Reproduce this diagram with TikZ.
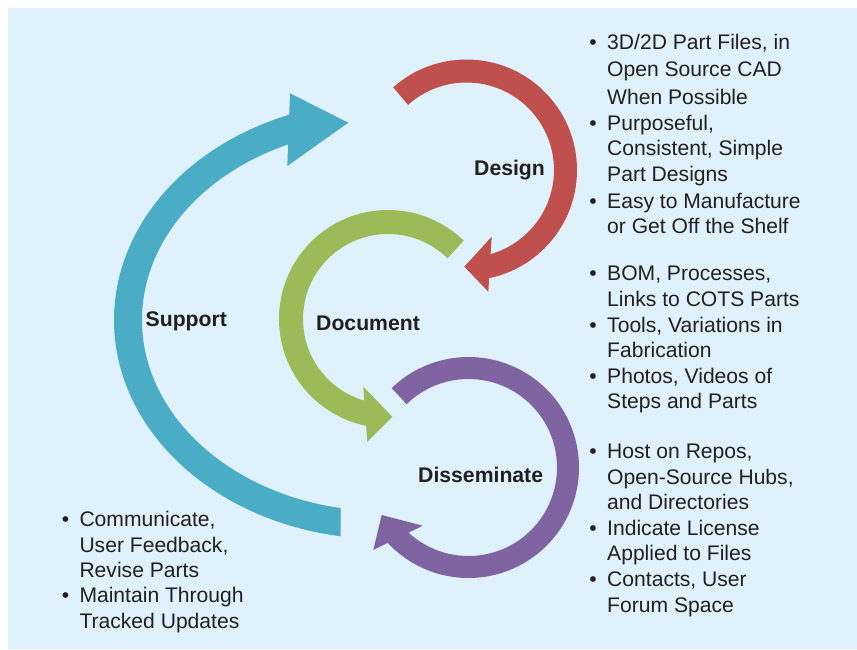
\documentclass[tikz,border=0pt]{standalone}
\usepackage{fontspec}
\setmainfont{Liberation Sans}
\definecolor{bgc}{RGB}{223,242,251}
\definecolor{redc}{HTML}{C0504D}
\definecolor{greenc}{HTML}{9BBB59}
\definecolor{purplec}{HTML}{8064A2}
\definecolor{cyanc}{HTML}{4BACC6}
\definecolor{txt}{HTML}{231F20}
\newcommand{\itemlines}[1]{\begin{tabular}[t]{@{}l@{}}#1\end{tabular}}
\begin{document}
\begin{tikzpicture}[x=1pt,y=-1pt,
  bandline/.style={line width=#1, line cap=butt},
  lbl/.style={font=\fontsize{21.2}{24}\selectfont\bfseries, text=txt, inner sep=0pt, anchor=base west},
  itm/.style={font=\fontsize{21.1}{25.6}\selectfont, text=txt, inner sep=0pt, anchor=base west},
  bul/.style={font=\fontsize{21.1}{25.6}\selectfont, text=txt, inner sep=0pt, anchor=base}]
\useasboundingbox (0,0) rectangle (857,649);
\fill[white] (0,0) rectangle (857,649);
\fill[bgc] (8,8) rectangle (857,649);

% Support (cyan)
\begin{scope}
\clip (0,0) rectangle (340.7,649);
\draw[cyanc, bandline=28pt] (383,320) ++(94:255 and 205) arc[start angle=94, end angle=251, x radius=255, y radius=205];
\end{scope}
\fill[cyanc] (290,93.3) -- (348.3,122.7) -- (287.3,166) -- cycle;

% Design (red)
\draw[redc, bandline=23pt] (466.5,170) ++(228.3:99) arc[start angle=228.3, end angle=440, radius=99];
\fill[redc] (491.7,236.7) -- (464.3,266.7) -- (488.3,291.7) -- cycle;

% Document (green)
\draw[greenc, bandline=24pt] (388,319) ++(314.2:97) arc[start angle=314.2, end angle=98, radius=97];
\fill[greenc] (363.3,386.7) -- (392.3,416.7) -- (367.3,441.7) -- cycle;

% Disseminate (purple)
\draw[purplec, bandline=22pt] (468.5,467.5) ++(225.8:99.5) arc[start angle=225.8, end angle=500, radius=99.5];
\fill[purplec] (381.7,515) -- (422.7,525.7) -- (373.3,550) -- cycle;

% labels
\node[lbl] (design) at (474,175) {Design};
\node[lbl] (document) at (316,330) {Document};
\node[lbl] (support) at (145.5,326.7) {Support};
\node[lbl] (dissem) at (418,482.7) {Disseminate};

% right column
\node[bul] (b1) at (593,49) {\textbullet};
\node[itm] (t1) at (607,49) {\itemlines{3D/2D Part Files, in\\[2.3pt]Open Source CAD\\[2.3pt]When Possible}};
\node[bul] (b2) at (593,130) {\textbullet};
\node[itm] (t2) at (607,130) {\itemlines{Purposeful,\\Consistent, Simple\\Part Designs}};
\node[bul] (b3) at (593,208) {\textbullet};
\node[itm] (t3) at (607,208) {\itemlines{Easy to Manufacture\\or Get Off the Shelf}};

\node[bul] (b4) at (593,280.6) {\textbullet};
\node[itm] (t4) at (607,280.6) {\itemlines{BOM, Processes,\\Links to COTS Parts}};
\node[bul] (b5) at (593,332) {\textbullet};
\node[itm] (t5) at (607,332) {\itemlines{Tools, Variations in\\Fabrication}};
\node[bul] (b6) at (593,383) {\textbullet};
\node[itm] (t6) at (607,383) {\itemlines{Photos, Videos of\\Steps and Parts}};

\node[bul] (b7) at (593,458.6) {\textbullet};
\node[itm] (t7) at (607,458.6) {\itemlines{Host on Repos,\\Open-Source Hubs,\\and Directories}};
\node[bul] (b8) at (593,535) {\textbullet};
\node[itm] (t8) at (607,535) {\itemlines{Indicate License\\Applied to Files}};
\node[bul] (b9) at (593,586.5) {\textbullet};
\node[itm] (t9) at (607,586.5) {\itemlines{Contacts, User\\Forum Space}};

% left column
\node[bul] (b10) at (65.6,526.5) {\textbullet};
\node[itm] (t10) at (79.3,526.5) {\itemlines{Communicate,\\User Feedback,\\Revise Parts}};
\node[bul] (b11) at (65.6,602.6) {\textbullet};
\node[itm] (t11) at (79.3,602.6) {\itemlines{Maintain Through\\Tracked Updates}};
\end{tikzpicture}
\end{document}
